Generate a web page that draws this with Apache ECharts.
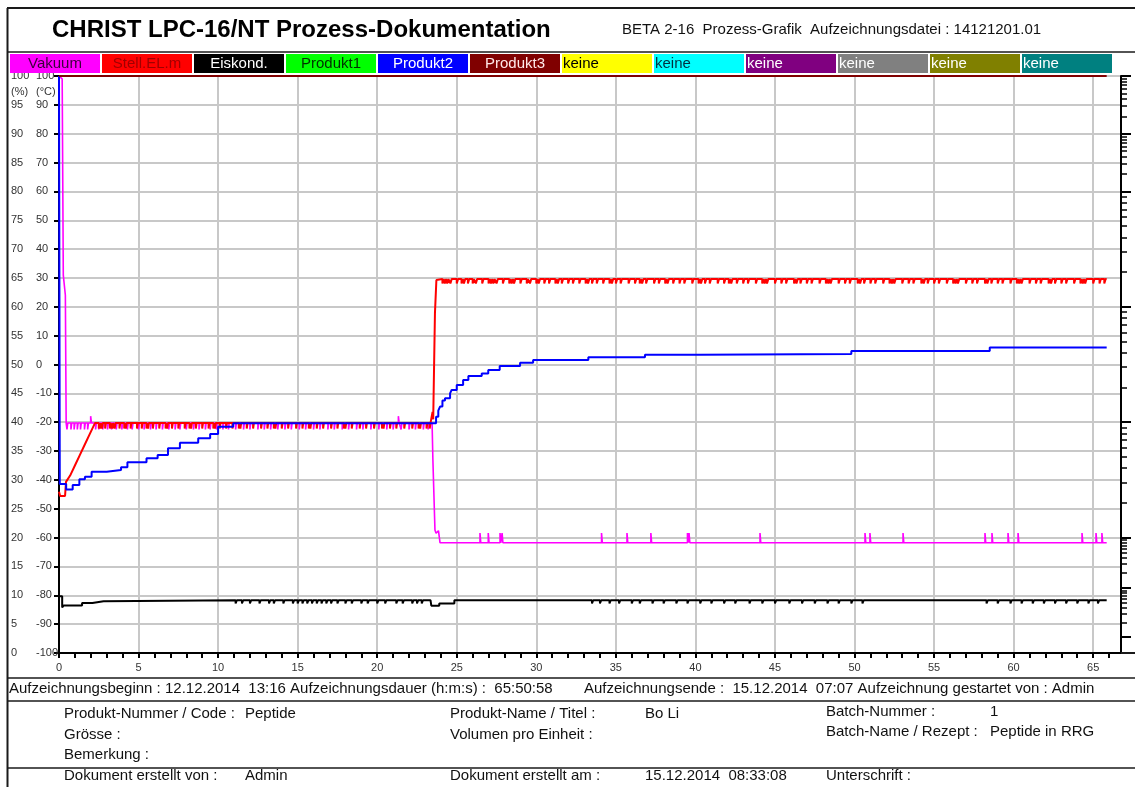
<!DOCTYPE html>
<html>
<head>
<meta charset="utf-8">
<title>CHRIST LPC-16/NT Prozess-Dokumentation</title>
<script src="https://cdn.jsdelivr.net/npm/echarts@6/dist/echarts.min.js"></script>
<style>
  html, body { margin: 0; padding: 0; background: #fff; }
  #chart { width: 1135px; height: 787px; }
</style>
</head>
<body>
<div id="chart"></div>
<script>
// ---- texts ----
const headerTitle = 'CHRIST LPC-16/NT Prozess-Dokumentation';
const headerInfo = 'BETA 2-16  Prozess-Grafik  Aufzeichnungsdatei : 14121201.01';
const recordLine = [
  'Aufzeichnungsbeginn : 12.12.2014  13:16 Aufzeichnungsdauer (h:m:s) :  65:50:58',
  'Aufzeichnungsende :  15.12.2014  07:07 Aufzeichnung gestartet von : Admin',
];
const infoRows = [
  ['Produkt-Nummer / Code :', 'Peptide', 'Produkt-Name / Titel :', 'Bo Li'],
  ['Grösse :', '', 'Volumen pro Einheit :', ''],
  ['Bemerkung :', '', '', ''],
];
const batchRows = [
  ['Batch-Nummer :', '1'],
  ['Batch-Name / Rezept :', 'Peptide in RRG'],
];
const docRow = ['Dokument erstellt von :', 'Admin', 'Dokument erstellt am :', '15.12.2014  08:33:08', 'Unterschrift :'];
const unitLabels = ['(%)', '(°C)'];

// ---- channels (legend bar) ----
const channelNames = ['Vakuum', 'Stell.EL.m', 'Eiskond.', 'Produkt1', 'Produkt2', 'Produkt3',
  'keine', 'keine', 'keine', 'keine', 'keine', 'keine'];
const channelColors = ['#ff00ff', '#ff0000', '#000000', '#00ff00', '#0000ff', '#800000',
  '#ffff00', '#00ffff', '#800080', '#808080', '#808000', '#008080'];
const channelTextColors = ['#3a003a', '#a00000', '#ffffff', '#003000', '#ffffff', '#ffe8e8',
  '#000000', '#003040', '#ffffff', '#ffffff', '#ffffff', '#ffffff'];

// ---- axes ----
const timeMin = 0, timeMax = 66.75, timeStep = 5;          // hours
const tempMin = -100, tempMax = 100, tempStep = 10;        // °C
const pctMin = 0, pctMax = 100, pctStep = 5;               // %
const lastHourTick = 66;
// decade marks of the (clipped) vacuum scale on the right, in °C-scale units
const vacuumDecades = [100, 80, 60, 20, -20, -60, -77.5, -94.5];

// ---- series: [hours, value] ----
const vakuumTrace = [[0, 100], [0.2, 99], [0.27, 31], [0.4, 24], [0.45, -20.3], [23.45, -20.3],
  [23.5, -33], [23.63, -57.4], [23.7, -58.5], [23.85, -57.6], [23.95, -61.8], [65.85, -61.8]];
const vakuumDips1 = [0.5, 0.75, 0.95, 1.15, 1.35, 1.6, 1.8, 2.3, 2.5, 2.75, 3.05, 3.3, 3.6, 3.95, 4.3,
  4.6, 5.0, 5.35, 5.75, 6.1, 6.5, 6.9, 7.3, 7.6, 8.0, 8.45, 8.8, 9.2, 9.5, 9.9, 10.3, 10.65, 11.1, 11.6,
  12.0, 12.5, 12.9, 13.3, 13.75, 14.2, 14.6, 15.1, 15.5, 16.0, 16.4, 16.9, 17.3, 17.8, 18.2, 18.7, 19.1,
  19.6, 20.1, 20.6, 21.0, 21.5, 22.0, 22.4, 22.9, 23.2];
const vakuumPeaks1 = [1.99, 21.33];
const vakuumPeaks2 = [26.46, 26.98, 27.72, 27.85, 34.1, 35.7, 37.2, 39.5, 39.6, 44.06, 50.66, 50.97,
  53.05, 58.2, 58.64, 59.65, 60.28, 64.3, 65.18, 65.55];
const vakuumDips2 = [24.4, 24.9, 25.5, 26.2, 27.3, 28.4, 29.3, 30.6, 31.8, 33.0, 35.1, 36.4, 38.2,
  40.8, 42.5, 44.9, 46.3, 47.8, 49.2, 51.6, 53.8, 55.4, 56.9, 60.9, 62.0, 62.9, 63.7, 64.9];

const stellTrace = [[0, -44.1], [0.06, -44.5], [0.07, -45.6], [0.38, -45.6], [0.44, -40.7], [0.7, -38.5],
  [1.0, -35], [1.3, -31.5], [1.6, -28], [1.9, -24.5], [2.26, -20.3], [23.45, -20.3], [23.48, -16.4],
  [23.52, -19], [23.63, 17.9], [23.72, 29.3], [23.8, 29.6], [65.85, 29.6]];
const stellDips1 = [2.5, 2.6, 2.7, 2.9, 3.2, 3.35, 3.5, 3.8, 4.1, 4.2, 4.5, 4.9, 5.2, 5.5, 5.6, 5.9, 6.3,
  6.7, 6.8, 7.1, 7.5, 7.9, 8.2, 8.3, 8.6, 9.0, 9.4, 9.7, 9.8, 10.1, 10.5, 10.9, 11.3, 11.4, 11.8, 12.2,
  12.7, 13.1, 13.5, 13.6, 14.0, 14.4, 14.9, 15.3, 15.7, 15.8, 16.2, 16.6, 17.1, 17.5, 17.9, 18.0, 18.4,
  18.9, 19.3, 19.8, 20.3, 20.4, 20.8, 21.2, 21.7, 22.2, 22.6, 22.7, 23.1, 23.3];
const stellDips2 = [24.1, 24.25, 24.4, 24.6, 25.0, 25.3, 25.45, 25.7, 26.0, 26.2, 26.6, 27.0, 27.15, 27.3,
  27.5, 27.9, 28.3, 28.45, 28.6, 29.0, 29.4, 29.6, 30.0, 30.15, 30.5, 30.8, 31.2, 31.35, 31.6, 32.0, 32.3,
  32.7, 33.1, 33.25, 33.5, 33.8, 34.2, 34.6, 34.75, 35.0, 35.3, 35.8, 36.2, 36.5, 36.65, 36.9, 37.4, 37.7,
  38.1, 38.25, 38.6, 39.0, 39.3, 39.8, 40.2, 40.35, 40.6, 40.9, 41.4, 41.8, 42.1, 42.25, 42.6, 43.0, 43.3,
  43.8, 44.2, 44.35, 44.5, 45.0, 45.4, 45.7, 46.2, 46.35, 46.6, 47.0, 47.3, 47.8, 48.2, 48.35, 48.5, 49.0,
  49.4, 49.7, 50.2, 50.35, 50.6, 51.0, 51.3, 51.8, 52.2, 52.35, 52.5, 53.0, 53.4, 53.7, 54.2, 54.35, 54.6,
  55.0, 55.3, 55.8, 56.2, 56.35, 56.5, 57.0, 57.4, 57.7, 58.2, 58.35, 58.6, 59.0, 59.3, 59.8, 60.2, 60.35,
  60.5, 61.0, 61.4, 61.7, 62.2, 62.35, 62.6, 63.0, 63.3, 63.8, 64.2, 64.35, 64.5, 65.0, 65.4, 65.7];

// Eiskond. and Produkt2 are held values (each value holds until the next time)
const eiskondTrace = [[0, -80.3], [0.2, -84.2], [0.3, -83.5], [1.45, -82.7], [2.1, -82.1], [2.8, -81.7],
  [23.35, -81.7], [23.4, -83.6], [23.9, -82.8], [24.85, -81.7], [65.85, -81.7]];
const eiskondDips = [11.1, 11.5, 12.0, 12.6, 13.2, 13.5, 14.1, 14.7, 15.0, 15.3, 15.6, 15.9, 16.2, 16.5,
  16.8, 17.1, 17.5, 18.0, 18.4, 19.0, 19.4, 20.0, 20.5, 21.2, 21.6, 22.2, 22.5, 22.8, 33.5, 34.0, 34.6,
  35.2, 36.0, 36.5, 37.3, 38.0, 38.8, 39.5, 40.3, 41.0, 41.8, 42.5, 43.4, 44.2, 45.0, 45.9, 46.7, 47.5,
  48.3, 49.0, 49.8, 50.5, 58.3, 59.0, 59.8, 60.5, 61.2, 61.9, 62.6, 63.3, 64.0, 64.7, 65.3];

const produkt2Trace = [[0, 100], [0.05, -41.4], [0.45, -43.3], [0.86, -41.8], [1.28, -39.8], [1.63, -38.9],
  [2.05, -37.2], [3.0, -36.6], [3.9, -35.6], [4.3, -33.9], [5.5, -32.5], [6.2, -31.4], [6.85, -29.0],
  [7.6, -27.1], [8.75, -25.6], [9.5, -24.1], [10.0, -21.6], [10.95, -20.4], [23.7, -18.1], [23.84, -16],
  [23.95, -14.6], [24.1, -12.5], [24.26, -11.7], [24.58, -10], [24.68, -8.8], [25.0, -7.1], [25.4, -5.4],
  [25.73, -4.0], [26.57, -3.1], [26.98, -1.9], [27.7, -0.5], [28.98, 0.6], [29.8, 1.6], [33.27, 2.5],
  [36.83, 3.4], [40.3, 3.6], [49.8, 4.7], [58.5, 5.9], [65.85, 5.9]];

const produkt3Trace = [[0, 100], [65.85, 100]];

// ---- helpers ----
const FONT = '"Liberation Sans", Arial, sans-serif';

function valueAt(trace, t) {
  for (let i = 1; i < trace.length; i++) {
    const p = trace[i - 1], q = trace[i];
    if (t >= p[0] && t < q[0]) {
      return p[1] + (q[1] - p[1]) * (t - p[0]) / (q[0] - p[0]);
    }
  }
  return trace[trace.length - 1][1];
}

// insert short excursions (sensor noise) into a trace: groups of [times, level, width]
function withSpikes(trace, groups) {
  const pts = trace.map(p => p.slice());
  groups.forEach(([times, level, w]) => {
    times.forEach(t => {
      const base = valueAt(trace, t);
      pts.push([t, base], [t, level], [t + w, level], [t + w, base]);
    });
  });
  return pts.sort((a, b) => a[0] - b[0]);
}

function vacuumMinorTicks() {
  const ticks = [];
  for (let i = 0; i < vacuumDecades.length - 1; i++) {
    const hi = vacuumDecades[i], lo = vacuumDecades[i + 1];
    for (let m = 2; m <= 9; m++) ticks.push(lo + Math.log10(m) * (hi - lo));
  }
  return ticks;
}

const hourTicks = Array.from({ length: lastHourTick + 1 }, (_, h) => h);

// ---- page graphics (frame, header, legend bar, footer) ----
function buildGraphics() {
  const g = [];
  const line = (x1, y1, x2, y2, w) => g.push({
    type: 'line', silent: true, z: 100,
    shape: { x1, y1, x2, y2 }, style: { stroke: '#1a1a1a', lineWidth: w },
  });
  const text = (x, y, str, size, opts) => g.push({
    type: 'text', silent: true, z: 101, x, y,
    style: Object.assign({ text: str, font: size + 'px ' + FONT, fill: '#111', verticalAlign: 'middle', align: 'left' }, opts || {}),
  });

  line(7, 8, 1135, 8, 2);
  line(7.5, 8, 7.5, 787, 2);
  line(7, 52, 1135, 52, 1.5);
  line(7, 678, 1135, 678, 1.5);
  line(7, 701, 1135, 701, 1.5);
  line(7, 768, 1135, 768, 1.5);
  line(1121, 653, 1135, 653, 2);

  text(52, 30, headerTitle, 24, { font: 'bold 24px ' + FONT, fill: '#000' });
  text(622, 30, headerInfo, 15);

  channelNames.forEach((name, i) => {
    const x = 10 + 92 * i;
    g.push({ type: 'rect', silent: true, z: 100, shape: { x, y: 54, width: 90, height: 19 }, style: { fill: channelColors[i] } });
    const centered = i < 6;
    text(centered ? x + 45 : x + 1, 64, name, 15, { fill: channelTextColors[i], align: centered ? 'center' : 'left' });
  });

  text(11, 92, unitLabels[0], 11, { fill: '#333' });
  text(36, 92, unitLabels[1], 11, { fill: '#333' });

  text(9, 689, recordLine[0], 15);
  text(584, 689, recordLine[1], 15);

  const cols = [64, 245, 450, 645];
  const rowY = [714, 735, 755];
  infoRows.forEach((row, r) => row.forEach((s, c) => { if (s) text(cols[c], rowY[r], s, 15); }));
  const batchY = [712, 732];
  batchRows.forEach((row, r) => { text(826, batchY[r], row[0], 15); text(990, batchY[r], row[1], 15); });
  const docCols = [64, 245, 450, 645, 826];
  docRow.forEach((s, c) => text(docCols[c], 776, s, 15));
  return g;
}

// ---- chart ----
const chart = echarts.init(document.getElementById('chart'));

const black = { color: '#000', width: 2 };
const grid = { color: '#c8c8c8', width: 2 };
const labelStyle = { color: '#333', fontSize: 11, fontFamily: FONT };

function lineSeries(name, data, color, width, step) {
  return {
    name, type: 'line', data, step: step || false,
    symbol: 'none', showSymbol: false, silent: true, animation: false,
    lineStyle: { color, width }, itemStyle: { color },
    emphasis: { disabled: true },
  };
}

const option = {
  animation: false,
  backgroundColor: '#fff',
  grid: { left: 59, top: 76, right: 14, bottom: 134, outerBoundsMode: 'none' },
  xAxis: [
    {
      type: 'value', position: 'bottom', min: timeMin, max: timeMax, interval: timeStep,
      axisLine: { show: true, onZero: false, lineStyle: black },
      axisTick: { show: false },
      axisLabel: Object.assign({ margin: 9, showMaxLabel: false }, labelStyle),
      splitLine: { show: true, lineStyle: grid },
    },
    {
      // hourly tick marks only
      type: 'value', position: 'bottom', min: timeMin, max: timeMax,
      axisLine: { show: false, onZero: false },
      axisTick: { show: true, length: 5, customValues: hourTicks, lineStyle: black },
      axisLabel: { show: false }, splitLine: { show: false },
    },
  ],
  yAxis: [
    {
      type: 'value', position: 'left', min: tempMin, max: tempMax, interval: tempStep,
      axisLine: { show: true, onZero: false, lineStyle: black },
      axisTick: { show: true, length: 5, lineStyle: black },
      axisLabel: Object.assign({ align: 'left', margin: 23 }, labelStyle),
      splitLine: { show: true, lineStyle: grid },
    },
    {
      type: 'value', position: 'left', min: pctMin, max: pctMax, interval: pctStep,
      axisLine: { show: false, onZero: false }, axisTick: { show: false }, splitLine: { show: false },
      axisLabel: Object.assign({ align: 'left', margin: 48 }, labelStyle),
    },
    {
      type: 'value', position: 'right', min: tempMin, max: tempMax,
      axisLine: { show: true, onZero: false, lineStyle: black },
      axisTick: { show: true, length: 10, customValues: vacuumDecades, lineStyle: black },
      axisLabel: { show: false }, splitLine: { show: false },
    },
    {
      type: 'value', position: 'right', min: tempMin, max: tempMax,
      axisLine: { show: false, onZero: false },
      axisTick: { show: true, length: 6, customValues: vacuumMinorTicks(), lineStyle: { color: '#000', width: 1.5 } },
      axisLabel: { show: false }, splitLine: { show: false },
    },
  ],
  graphic: buildGraphics(),
  series: [
    lineSeries('Vakuum', withSpikes(vakuumTrace, [[vakuumDips1, -22.5, 0.05], [vakuumPeaks1, -17.9, 0.05],
      [vakuumPeaks2, -58.4, 0.05], [vakuumDips2, -62.4, 0.05]]), '#ff00ff', 1.6),
    lineSeries('Stell.EL.m', withSpikes(stellTrace, [[stellDips1, -22.2, 0.05], [stellDips2, 28.1, 0.08]]), '#ff0000', 2),
    lineSeries('Eiskond.', withSpikes(eiskondTrace, [[eiskondDips, -82.8, 0.08]]), '#000000', 2, 'end'),
    lineSeries('Produkt2', produkt2Trace, '#0000ff', 2, 'end'),
    lineSeries('Produkt3', produkt3Trace, '#800000', 2),
  ],
};

chart.setOption(option);
window.addEventListener('resize', () => chart.resize());
</script>
</body>
</html>
